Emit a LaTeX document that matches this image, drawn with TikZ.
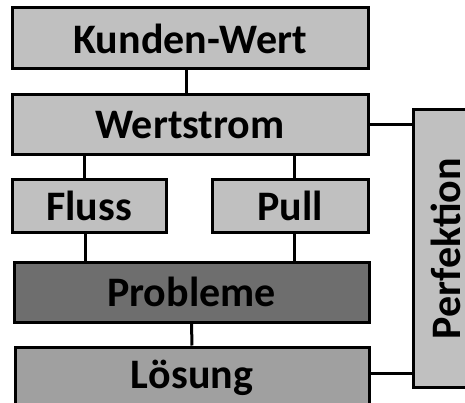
\documentclass[tikz,border=0pt]{standalone}
\usepackage{fontspec}
\setmainfont{Carlito}
\usepackage{tikz}
\tikzstyle{every node}=[draw, line width=3pt, inner sep=0pt, font=\fontsize{42}{46}\selectfont\bfseries]
\tikzstyle{light}=[fill={rgb,255:red,192;green,192;blue,192}]
\tikzstyle{dark}=[fill={rgb,255:red,110;green,110;blue,110}]
\tikzstyle{mid}=[fill={rgb,255:red,160;green,160;blue,160}]

\begin{document}
\begin{tikzpicture}[x=1pt, y=-1pt, line width=3pt]
\useasboundingbox (0,0) rectangle (465,403);
% Boxes
    \node[light, minimum width=356, minimum height=61] (kunde) at (190,38.5) {Kunden-Wert\hspace{26pt}};
    \node[light, minimum width=356, minimum height=60] (wertstrom) at (190,125) {Wertstrom\hspace{16pt}};
    \node[light, minimum width=154, minimum height=52] (fluss) at (89,206) {Fluss};
    \node[light, minimum width=156, minimum height=52] (pull) at (290,206) {Pull};
    \node[dark, minimum width=355, minimum height=60] (probleme) at (191.5,292) {Probleme};
    \node[mid, minimum width=354, minimum height=62] (loesung) at (192,378) {Lösung};
    \node[light, minimum width=277, minimum height=65, rotate=90] (perfektion) at (445.5,248.5) {Perfektion};
% Links
    \draw ([xshift=-4]kunde.south) -- ([xshift=-4]kunde.south |- wertstrom.north);
    \draw ([xshift=-5]fluss.north) -- ([xshift=-5]fluss.north |- wertstrom.south);
    \draw ([xshift=4]pull.north) -- ([xshift=4]pull.north |- wertstrom.south);
    \draw ([xshift=-4]fluss.south) -- ([xshift=-4]fluss.south |- probleme.north);
    \draw ([xshift=4]pull.south) -- ([xshift=4]pull.south |- probleme.north);
    \draw (probleme) -- (loesung);
    \draw (wertstrom.east) -- (wertstrom.east -| perfektion.north);
    \draw ([yshift=5]loesung.east) -- ([yshift=5]loesung.east -| perfektion.north);
\end{tikzpicture}
\end{document}
